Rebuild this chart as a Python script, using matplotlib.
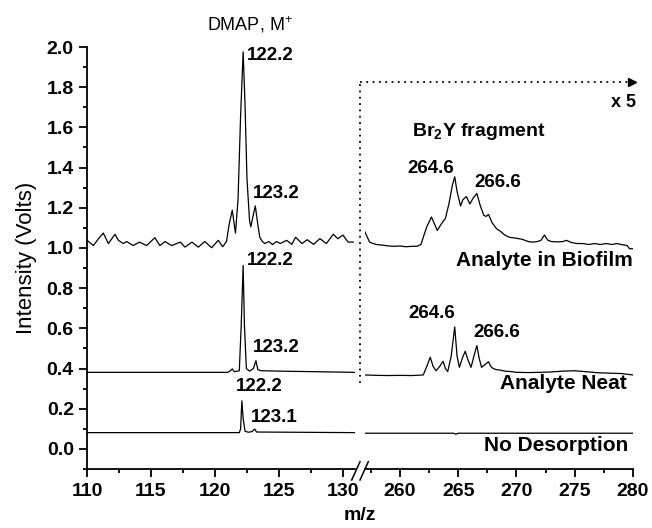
import numpy as np
import matplotlib
matplotlib.use("Agg")
import matplotlib.pyplot as plt
from matplotlib.ticker import MultipleLocator
from matplotlib.lines import Line2D

plt.rcParams['font.family'] = ['Liberation Sans', 'DejaVu Sans']
plt.rcParams['mathtext.fontset'] = 'custom'
plt.rcParams['mathtext.rm'] = 'Liberation Sans'
plt.rcParams['mathtext.bf'] = 'Liberation Sans:bold'

# ---- dane: widma (m/z, intensywność) ----
# Analyte in Biofilm, zakres niski
bio_low_mz = [110.0, 110.5, 110.9, 111.27, 111.67, 112.19, 112.45, 112.84, 113.1, 113.6,
              114.1, 114.66, 115.3, 115.7, 116.1, 116.6, 117.3, 117.66, 118.2, 118.7,
              119.2, 119.74, 120.26, 120.6, 120.9, 121.1, 121.35, 121.6, 121.8, 122.0,
              122.2, 122.35, 122.5, 122.7, 122.8, 123.0, 123.15, 123.35, 123.5, 123.7,
              123.9, 124.2, 124.5, 124.8, 125.1, 125.6, 126.0, 126.3, 126.8, 127.2,
              127.7, 128.2, 128.7, 129.24, 129.6, 130.0, 130.4, 130.8]
bio_low_int = [1.038, 1.012, 1.046, 1.074, 1.022, 1.068, 1.038, 1.022, 1.032, 1.012,
               1.029, 1.012, 1.051, 1.012, 1.032, 1.012, 1.029, 1.004, 1.029, 1.004,
               1.032, 1.001, 1.038, 1.006, 1.032, 1.115, 1.188, 1.074, 1.240, 1.655,
               1.976, 1.707, 1.344, 1.136, 1.105, 1.167, 1.209, 1.115, 1.053, 1.032,
               1.022, 1.032, 1.017, 1.032, 1.022, 1.038, 1.018, 1.053, 1.022, 1.041,
               1.018, 1.046, 1.022, 1.068, 1.046, 1.064, 1.029, 1.029]

# Analyte in Biofilm, zakres wysoki (x5)
bio_high_mz = [257.0, 257.2, 257.4, 257.7, 258.0, 258.5, 259.0, 259.5, 260.0, 260.5,
               261.0, 261.5, 261.8, 262.0, 262.3, 262.7, 263.0, 263.2, 263.5, 263.9,
               264.2, 264.5, 264.7, 264.9, 265.2, 265.4, 265.7, 266.0, 266.3, 266.6,
               266.9, 267.2, 267.4, 267.6, 267.9, 268.3, 268.6, 269.0, 269.4, 270.0,
               270.5, 271.0, 271.4, 271.8, 272.1, 272.4, 272.7, 273.0, 273.5, 274.0,
               274.3, 274.7, 275.2, 275.7, 276.2, 276.7, 277.2, 277.7, 278.2, 278.6,
               279.0, 279.5, 279.7, 280.0]
bio_high_int = [1.079, 1.053, 1.029, 1.022, 1.017, 1.014, 1.010, 1.008, 1.010, 1.006,
                1.008, 1.009, 1.017, 1.053, 1.105, 1.154, 1.115, 1.087, 1.115, 1.147,
                1.219, 1.313, 1.354, 1.281, 1.209, 1.240, 1.256, 1.219, 1.250, 1.271,
                1.209, 1.162, 1.157, 1.167, 1.126, 1.095, 1.084, 1.064, 1.053, 1.048,
                1.043, 1.032, 1.029, 1.032, 1.038, 1.064, 1.038, 1.032, 1.030, 1.032,
                1.038, 1.027, 1.022, 1.022, 1.017, 1.022, 1.017, 1.022, 1.017, 1.022,
                1.017, 1.012, 0.996, 0.996]

# Analyte Neat
neat_low_mz = [110.0, 121.0, 121.2, 121.35, 121.5, 121.9, 122.05, 122.2, 122.3, 122.45,
               122.7, 123.0, 123.2, 123.35, 123.6, 125.0, 128.0, 130.9]
neat_low_int = [0.381, 0.381, 0.389, 0.398, 0.384, 0.389, 0.617, 0.913, 0.617, 0.400,
                0.387, 0.400, 0.439, 0.394, 0.389, 0.387, 0.384, 0.381]

neat_high_mz = [257.0, 258.0, 259.0, 260.0, 261.0, 262.0, 262.3, 262.6, 262.85, 263.1,
                263.4, 263.7, 263.9, 264.1, 264.4, 264.7, 264.9, 265.1, 265.35, 265.6,
                265.85, 266.1, 266.35, 266.6, 266.8, 267.0, 267.3, 267.6, 267.8, 268.0,
                268.3, 268.6, 269.0, 269.5, 270.0, 271.0, 272.0, 273.0, 274.0, 275.0,
                276.0, 277.0, 278.0, 279.0, 280.0]
neat_high_int = [0.368, 0.366, 0.365, 0.366, 0.365, 0.368, 0.410, 0.456, 0.410, 0.389,
                 0.410, 0.436, 0.400, 0.385, 0.462, 0.607, 0.462, 0.406, 0.451, 0.486,
                 0.441, 0.406, 0.462, 0.514, 0.451, 0.406, 0.420, 0.434, 0.410, 0.400,
                 0.394, 0.392, 0.387, 0.385, 0.381, 0.380, 0.381, 0.383, 0.387, 0.389,
                 0.384, 0.379, 0.377, 0.375, 0.368]

# No Desorption
nod_low_mz = [110.0, 121.9, 122.0, 122.1, 122.2, 122.35, 122.6, 122.9, 123.1, 123.25, 130.9]
nod_low_int = [0.081, 0.081, 0.099, 0.239, 0.151, 0.088, 0.083, 0.086, 0.099, 0.084, 0.081]

nod_high_mz = [257.0, 264.6, 264.8, 265.0, 280.0]
nod_high_int = [0.078, 0.078, 0.073, 0.078, 0.078]

# ---- rysunek ----
fig = plt.figure(figsize=(6.52, 5.28), dpi=100)
bottom, height = 1 - 469 / 528, (469 - 47) / 528
ax1 = fig.add_axes([87 / 652, bottom, (355 - 87) / 652, height])
ax2 = fig.add_axes([365 / 652, bottom, (633 - 365) / 652, height])

lw = 0.9
for mz, y in [(bio_low_mz, bio_low_int), (neat_low_mz, neat_low_int), (nod_low_mz, nod_low_int)]:
    ax1.plot(mz, y, color="black", lw=lw)
for mz, y in [(bio_high_mz, bio_high_int), (neat_high_mz, neat_high_int), (nod_high_mz, nod_high_int)]:
    ax2.plot(mz, y, color="black", lw=lw)

ax1.set_xlim(110, 130.94)
ax2.set_xlim(257.0, 280)
for ax in (ax1, ax2):
    ax.set_ylim(-0.1, 2.0)
    ax.spines["top"].set_visible(False)
    ax.spines["right"].set_visible(False)
    ax.spines["bottom"].set_linewidth(1.3)
    ax.xaxis.set_major_locator(MultipleLocator(5))
    ax.xaxis.set_minor_locator(MultipleLocator(2.5))
    ax.tick_params(axis="x", which="major", direction="out", length=6, width=1.3, labelsize=14, pad=4)
    ax.tick_params(axis="x", which="minor", direction="out", length=3, width=1.3)
    for lab in ax.get_xticklabels():
        lab.set_fontweight("bold")

ax1.spines["left"].set_linewidth(1.3)
ax1.yaxis.set_major_locator(MultipleLocator(0.2))
ax1.yaxis.set_minor_locator(MultipleLocator(0.1))
ax1.tick_params(axis="y", which="major", direction="out", length=6, width=1.3, labelsize=14)
ax1.tick_params(axis="y", which="minor", direction="out", length=3, width=1.3)
ax1.set_yticks(np.arange(0, 2.01, 0.2))
ax1.set_yticklabels([f"{v:.1f}" for v in np.arange(0, 2.01, 0.2)], fontweight="bold")
ax1.set_ylabel("Intensity (Volts)", fontsize=16, labelpad=7)

ax2.spines["left"].set_visible(False)
ax2.tick_params(axis="y", which="both", left=False, labelleft=False)
ax2.set_xticks([260, 265, 270, 275, 280])
ax2.set_xticklabels(["260", "265", "270", "275", "280"], fontweight="bold")

fig.text(360 / 652, 1 - 515 / 528, "m/z", ha="center", va="center", fontsize=14, fontweight="bold")

# znak przerwania osi
for x0 in (351.7, 360.0):
    fig.add_artist(Line2D([x0 / 652, (x0 + 8.3) / 652], [1 - 480 / 528, 1 - 461.7 / 528],
                          color="black", lw=1.1))

# opisy pików
pk = dict(fontsize=13.5, fontweight="bold")
ax1.text(122.73, 2.11, "DMAP, M$^{+}$", ha="center", va="center", fontsize=13, clip_on=False)
ax1.text(122.48, 1.96, "122.2", ha="left", va="center", **pk)
ax1.text(122.95, 1.273, "123.2", ha="left", va="center", **pk)
ax1.text(122.48, 0.938, "122.2", ha="left", va="center", **pk)
ax1.text(122.95, 0.505, "123.2", ha="left", va="center", **pk)
ax1.text(121.64, 0.311, "122.2", ha="left", va="center", **pk)
ax1.text(122.79, 0.156, "123.1", ha="left", va="center", **pk)

ax2.text(261.0, 1.578, r"Br$_\mathbf{2}$Y fragment", ha="left", va="center", fontsize=14, fontweight="bold")
ax2.text(262.6, 1.395, "264.6", ha="center", va="center", **pk)
ax2.text(268.4, 1.328, "266.6", ha="center", va="center", **pk)
ax2.text(262.7, 0.672, "264.6", ha="center", va="center", **pk)
ax2.text(268.3, 0.58, "266.6", ha="center", va="center", **pk)
lab = dict(fontsize=15, fontweight="bold", ha="right", va="center")
ax2.text(280.0, 0.938, "Analyte in Biofilm", **lab)
ax2.text(279.5, 0.323, "Analyte Neat", **lab)
ax2.text(279.6, 0.015, "No Desorption", **lab)
ax2.text(280.3, 1.726, "x 5", fontsize=13, fontweight="bold", ha="right", va="center", clip_on=False)

# kropkowana ramka ze strzałką (x5)
dots = dict(color="black", lw=1.3, linestyle=(0, (1, 2.5)), clip_on=False)
ax2.plot([256.6, 256.6], [0.329, 1.825], **dots)
ax2.plot([256.6, 279.6], [1.825, 1.825], **dots)
ax2.plot([279.9], [1.825], marker=">", color="black", markersize=6, clip_on=False)

fig.savefig("out.png", dpi=100)
